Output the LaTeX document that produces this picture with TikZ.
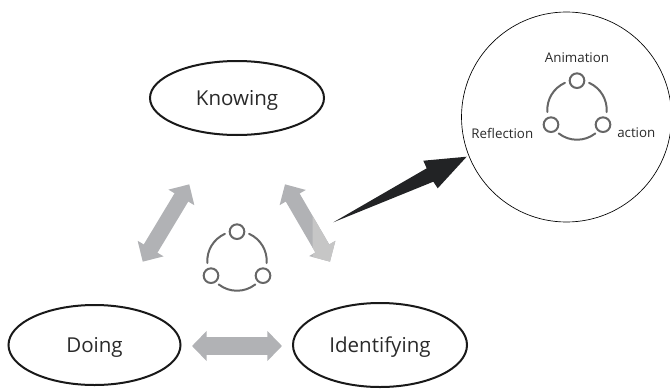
\documentclass[tikz,border=0pt]{standalone}
\usepackage{fontspec}
\setmainfont{Open Sans}
\usetikzlibrary{arrows.meta,shapes.geometric}
\definecolor{arrowgray}{HTML}{B1B2B5}
\definecolor{arrowlight}{HTML}{C6C6C6}
\definecolor{icongray}{HTML}{666666}
\definecolor{inktext}{HTML}{2A2A2A}
\definecolor{blackarrow}{HTML}{222325}
\tikzset{
  x=0.75pt,y=-0.75pt,
  stage/.style={draw=black!90,line width=1.5pt,ellipse,inner sep=0pt,text=inktext,text height=14.5pt,text depth=3.3pt,font=\fontsize{15.4}{18}\selectfont},
  smalltext/.style={text=inktext,inner sep=0pt,font=\fontsize{10}{12}\selectfont},
  grayarrow/.style={draw=arrowgray,line width=12pt,{Triangle[length=11.5pt,width=22pt]}-{Triangle[length=11.5pt,width=22pt]}},
  flatarrow/.style={draw=arrowgray,line width=14pt,{Triangle[length=11pt,width=22pt]}-{Triangle[length=11pt,width=22pt]}},
  ringnode/.style={circle,draw=icongray,line width=1.5pt,minimum size=11pt,inner sep=0pt},
  ringarc/.style={draw=icongray,line width=1.5pt,line cap=round},
}
\newcommand{\cycleicon}[2]{%
  \node[ringnode] (#2t) at (#1) [yshift=22pt] {};
  \node[ringnode] (#2l) at (#1) [xshift=-19.5pt,yshift=-11pt] {};
  \node[ringnode] (#2r) at (#1) [xshift=19.5pt,yshift=-11pt] {};
  \draw[ringarc] (#1) ++(114:22.3pt) arc[start angle=114,end angle=184,radius=22.3pt];
  \draw[ringarc] (#1) ++(66:22.3pt) arc[start angle=66,end angle=-4,radius=22.3pt];
  \draw[ringarc] (#1) ++(232:22.3pt) arc[start angle=232,end angle=308,radius=22.3pt];
}
\begin{document}
\begin{tikzpicture}
\useasboundingbox (0,0) rectangle (670,389);
% stages
\node[stage,minimum width=130.5pt,minimum height=55.5pt] (knowing) at (237,98) {Knowing};
\node[stage,minimum width=129pt,minimum height=60pt] (doing) at (94.5,345) {Doing};
\node[stage,minimum width=130.5pt,minimum height=63pt] (identifying) at (380,345) {Identifying};
\node[circle,draw=black,line width=0.5pt,minimum size=157.5pt,inner sep=0pt] (zoomcircle) at (566.5,117) {};
% connector ends
\coordinate (kl) at (189.3,184.3);
\coordinate (dt) at (142.7,261.7);
\coordinate (kr) at (285,184.3);
\coordinate (ir) at (330,261.7);
\coordinate (dh) at (192,346);
\coordinate (ih) at (282,346);
\coordinate (tail) at (333.3,222.3);
\coordinate (tip) at (466.7,156.7);
\coordinate (barbU) at (423.3,160.7);
\coordinate (neckU) at (426.7,168.3);
\coordinate (barbL) at (437.7,188.3);
\coordinate (neckL) at (433.3,181.7);
% grey arrows
\draw[grayarrow] (dt) -- (kl);
\draw[grayarrow] (kr) -- (ir);
\begin{scope}
  \clip (312.7,190) rectangle (340,270);
  \draw[grayarrow,draw=arrowlight] (kr) -- (ir);
\end{scope}
\draw[flatarrow] (dh) -- (ih);
% black arrow
\fill[blackarrow] (tail) -- (neckU) -- (barbU) -- (tip) -- (barbL) -- (neckL) -- cycle;
% icons
\coordinate (iconA) at (237,261);
\cycleicon{iconA}{a}
\coordinate (iconB) at (577,110);
\cycleicon{iconB}{b}
% labels
\node[smalltext] (animation) at (577,58) {Animation};
\node[smalltext] (reflection) at (502.3,133.5) {Reflection};
\node[smalltext] (action) at (636.3,133) {action};
\end{tikzpicture}
\end{document}
